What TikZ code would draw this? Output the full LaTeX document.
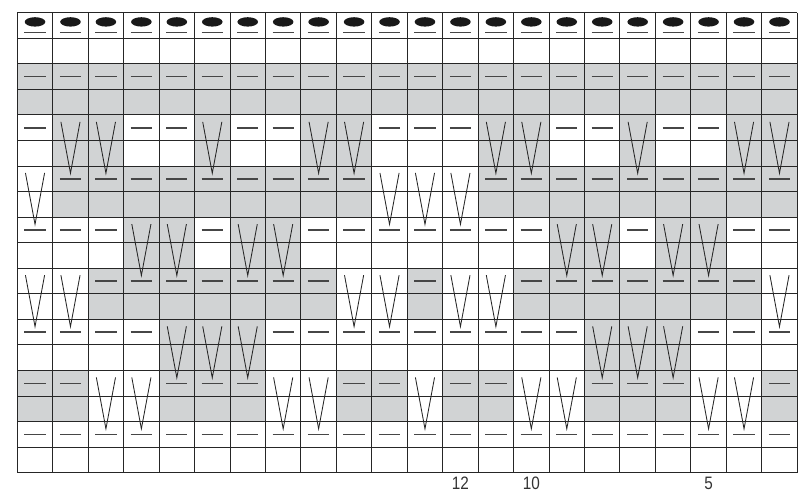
\documentclass[tikz,border=0pt]{standalone}
\usepackage{fontspec}
\setmainfont[FakeStretch=0.85]{Liberation Sans}
\usetikzlibrary{backgrounds}
\definecolor{chartgray}{RGB}{209,211,212}
\definecolor{barcol}{RGB}{70,70,70}

\begin{document}
\begin{tikzpicture}[
  x=35.45pt, y=-25.56pt,
  gridline/.style={draw=black!85, line width=1pt},
  graycell/.style={fill=chartgray},
  purlbar/.style={draw=barcol, line width=1.6pt},
  slipst/.style={draw=black!85, line width=0.85pt},
  bobble/.style={fill=black!90},
  colnum/.style={anchor=north, inner sep=0pt, text=black!80,
    font=\fontsize{18}{18}\selectfont}
]
\useasboundingbox (-17.3pt,12.7pt) rectangle (781.7pt,-479.3pt);

% top row with bobbles, and the last purl row
\foreach \col in {1,...,22} {
  \fill[bobble] (\col-0.5,0.36) ellipse (10.3pt and 4.7pt);
  \draw[purlbar] (\col-0.8,0.78) -- (\col-0.2,0.78);
  \draw[purlbar] (\col-0.8,16.5) -- (\col-0.2,16.5);
}

% two chart rows per line: 0 purl, 1 purl on grey, 2 slip, 3 slip on grey
\foreach \pat [count=\pair] in {%
  {1,1,1,1,1,1,1,1,1,1,1,1,1,1,1,1,1,1,1,1,1,1},%
  {0,3,3,0,0,3,0,0,3,3,0,0,0,3,3,0,0,3,0,0,3,3},%
  {2,1,1,1,1,1,1,1,1,1,2,2,2,1,1,1,1,1,1,1,1,1},%
  {0,0,0,3,3,0,3,3,0,0,0,0,0,0,0,3,3,0,3,3,0,0},%
  {2,2,1,1,1,1,1,1,1,2,2,1,2,2,1,1,1,1,1,1,1,2},%
  {0,0,0,0,3,3,3,0,0,0,0,0,0,0,0,0,3,3,3,0,0,0},%
  {1,1,2,2,1,1,1,2,2,1,1,2,1,1,2,2,1,1,1,2,2,1}%
}{
  \foreach \code [count=\col] in \pat {
    \ifodd\code\relax
      \begin{pgfonlayer}{background}
        \fill[graycell] (\col-1,2*\pair) rectangle (\col,2*\pair+2);
      \end{pgfonlayer}
    \fi
    \ifnum\code>1\relax
      \draw[slipst] (\col-0.77,2*\pair+0.27) -- (\col-0.5,2*\pair+2.28)
        -- (\col-0.23,2*\pair+0.27);
    \else
      \draw[purlbar] (\col-0.8,2*\pair+0.5) -- (\col-0.2,2*\pair+0.5);
    \fi
  }
}

% grid
\foreach \col in {0,...,22}
  \draw[gridline] (\col,0) -- (\col,18);
\foreach \row in {0,...,18}
  \draw[gridline] (0,\row) -- (22,\row);

% stitch numbers
\node[colnum, yshift=-3.8pt] (num12) at (12.5,18) {12};
\node[colnum, yshift=-3.8pt] (num10) at (14.5,18) {10};
\node[colnum, yshift=-3.8pt] (num5) at (19.5,18) {5};
\end{tikzpicture}
\end{document}
